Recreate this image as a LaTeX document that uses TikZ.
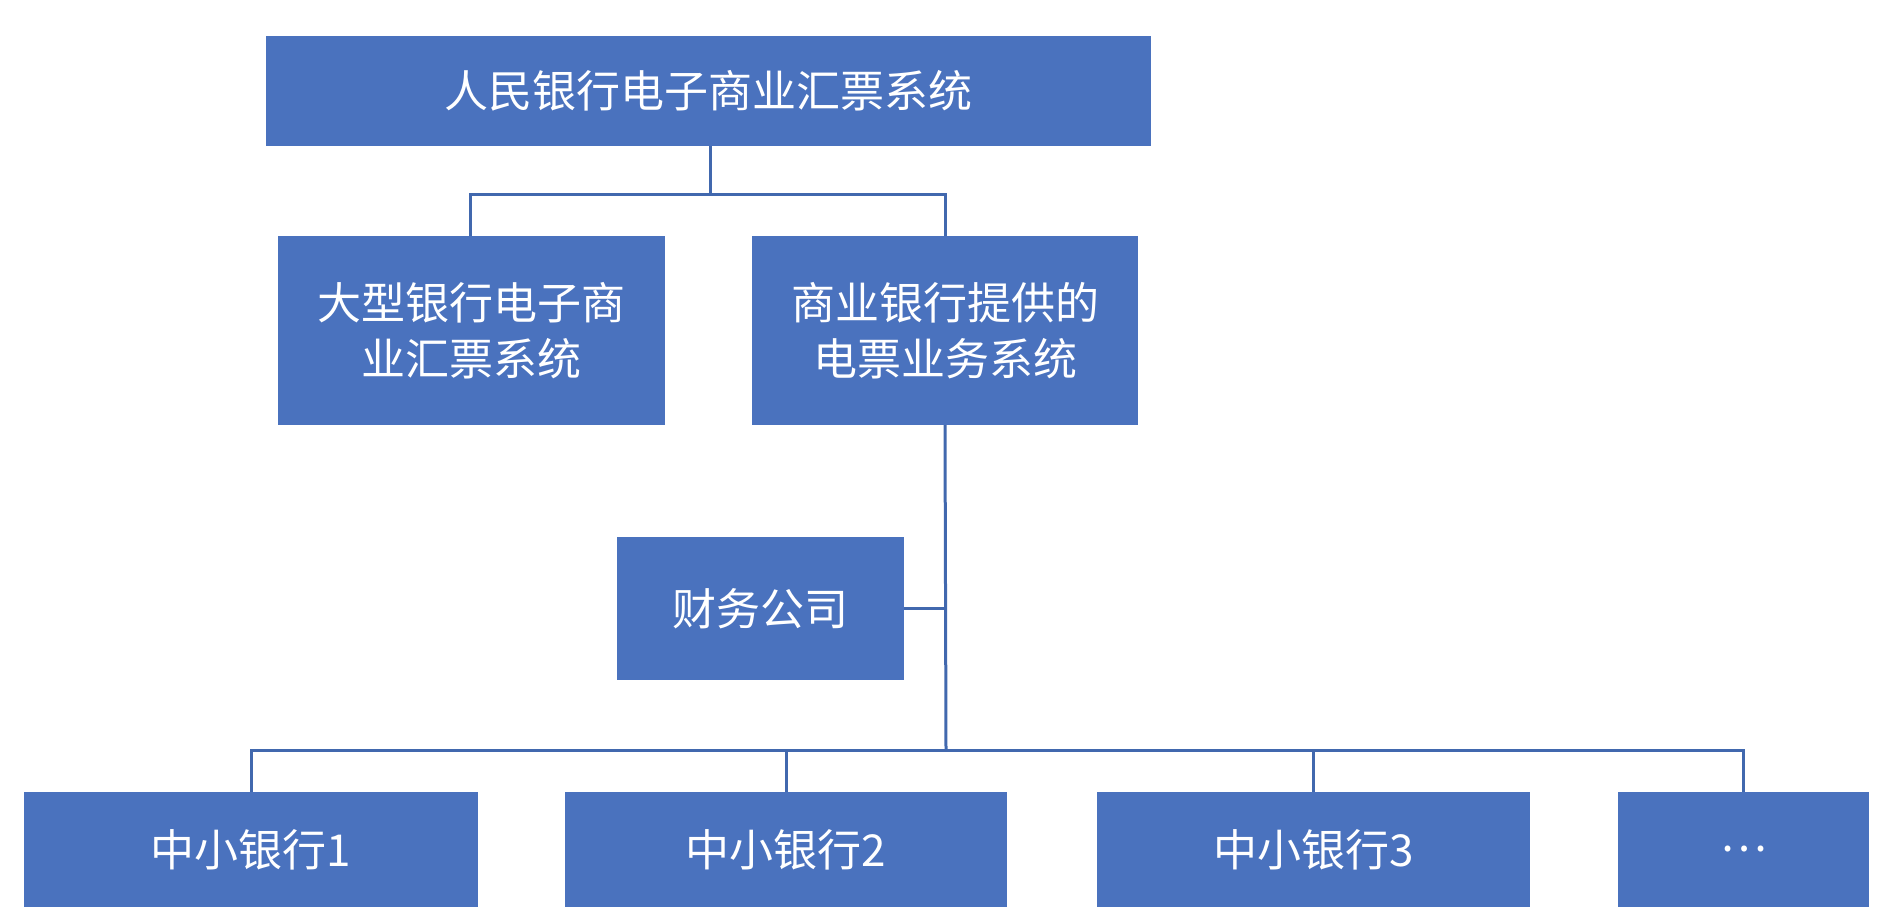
\documentclass[tikz,border=0pt]{standalone}
\usepackage{fontspec}
\setmainfont{Noto Sans CJK SC}
\begin{document}
\begin{tikzpicture}[x=1pt,y=-1pt,
  blockbox/.style={fill=boxblue,draw=none,text=white,font=\fontsize{44}{56}\selectfont,
    align=center,inner sep=0pt},
  link/.style={draw=lineblue,line width=3pt}]
  \definecolor{boxblue}{HTML}{4A72BE}
  \definecolor{lineblue}{HTML}{4168AE}
  \useasboundingbox (0,0) rectangle (1879,918);

  % top system
  \node[blockbox,minimum width=885,minimum height=110] (pboc) at (708.5,91) {人民银行电子商业汇票系统};

  % second level
  \node[blockbox,minimum width=387,minimum height=189] (big) at (471.5,330.5) {大型银行电子商\\业汇票系统};
  \node[blockbox,minimum width=386,minimum height=189] (cb) at (945,330.5) {商业银行提供的\\电票业务系统};
  \node[blockbox,minimum width=287,minimum height=143] (fin) at (760.5,608.5) {财务公司};

  % small banks
  \node[blockbox,minimum width=454,minimum height=115] (b1) at (251,849.5) {中小银行1};
  \node[blockbox,minimum width=442,minimum height=115] (b2) at (786,849.5) {中小银行2};
  \node[blockbox,minimum width=433,minimum height=115] (b3) at (1313.5,849.5) {中小银行3};
  \node[blockbox,minimum width=251,minimum height=115] (bx) at (1743.5,849.5) {…};

  % connectors
  \coordinate (topbus) at (710,194);
  \coordinate (lowbus) at (946,750);
  \draw[link] (710,146) -- (topbus);
  \draw[link] (470,236) |- (topbus) -| (cb.north);
  \draw[link] (cb.south) -- (lowbus);
  \draw[link] (fin.east) -- (fin.east -| lowbus);
  \draw[link] (b1.north) |- (lowbus);
  \draw[link] (b2.north) |- (lowbus);
  \draw[link] (b3.north) |- (lowbus);
  \draw[link] (bx.north) |- (lowbus);
\end{tikzpicture}
\end{document}
